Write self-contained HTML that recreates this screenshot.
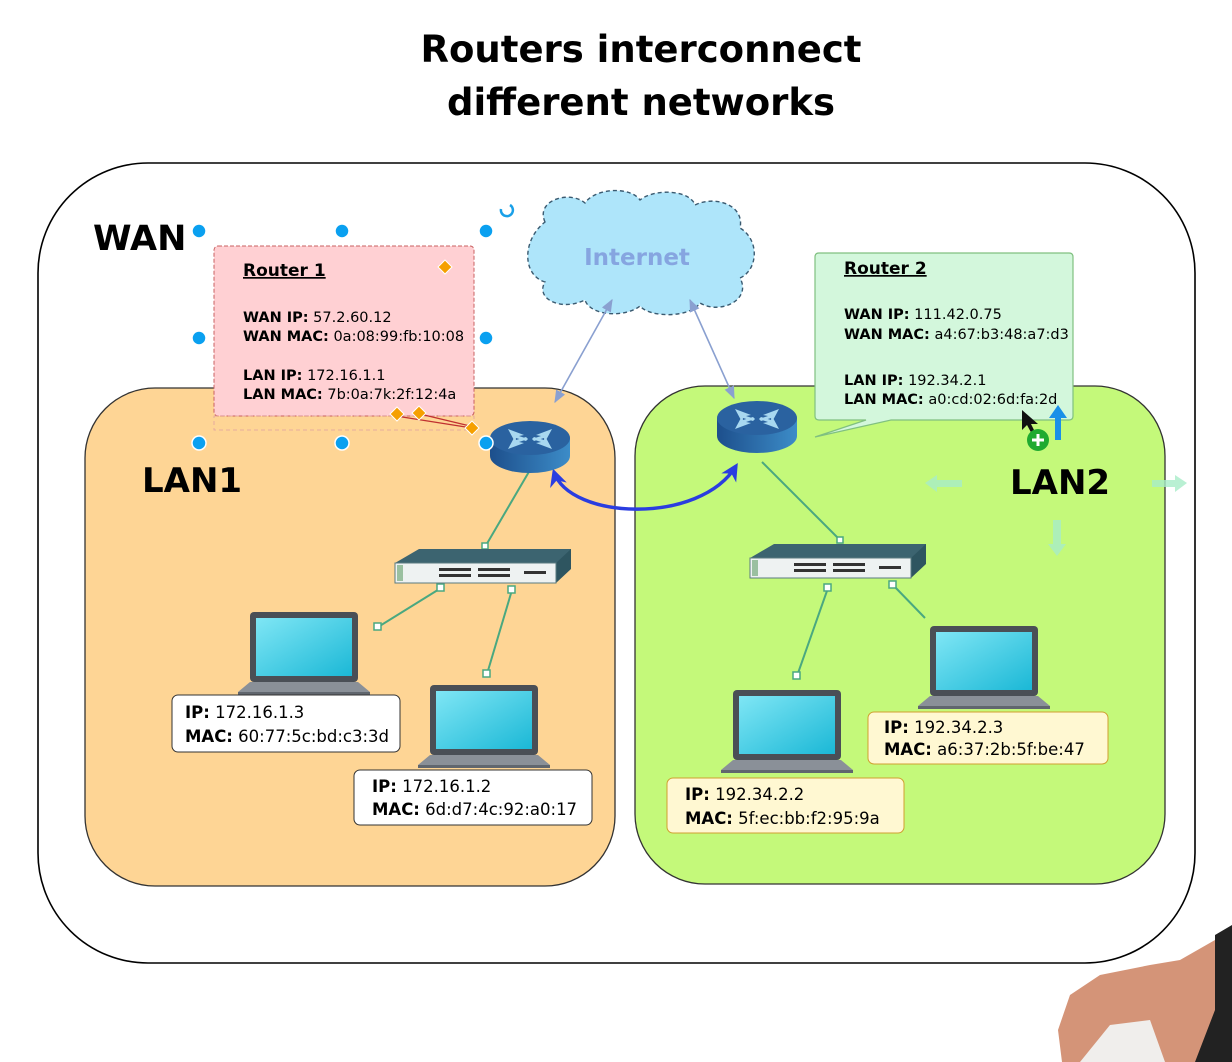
<!DOCTYPE html>
<html><head><meta charset="utf-8"><style>
html,body{margin:0;padding:0;background:#fff;}
svg{display:block;font-family:"DejaVu Sans","Liberation Sans",sans-serif;}
.b{font-weight:bold;}
</style></head><body>
<svg width="1232" height="1062" viewBox="0 0 1232 1062" xmlns="http://www.w3.org/2000/svg">
<defs>
<linearGradient id="scr" x1="0" y1="0" x2="1" y2="1"><stop offset="0" stop-color="#7fe6f5"/><stop offset="1" stop-color="#1bb8d6"/></linearGradient>
<linearGradient id="rt" x1="0" y1="0" x2="1" y2="0"><stop offset="0" stop-color="#1d4f8c"/><stop offset="1" stop-color="#3c8cc8"/></linearGradient>
<marker id="ah" viewBox="0 0 10 10" refX="9" refY="5" markerWidth="8" markerHeight="8" orient="auto-start-reverse"><path d="M0,1 L10,5 L0,9 z" fill="#8aa0d0"/></marker>
<marker id="bh" viewBox="0 0 10 10" refX="8" refY="5" markerWidth="5" markerHeight="5" orient="auto-start-reverse"><path d="M0,0 L10,5 L0,10 L3,5 z" fill="#2a3de0"/></marker>
<g id="sw">
<path d="M0,14 L24,0 L176,0 L176,14 L161,34 L0,34 z" fill="#3c6470"/>
<path d="M161,14 L176,0 L176,20 L161,34 z" fill="#2e5560"/>
<rect x="0" y="14" width="161" height="20" fill="#eef2f2" stroke="#5a7a80"/>
<rect x="2" y="16" width="6" height="16" fill="#9ac0a0"/>
<g fill="#333"><rect x="44" y="19" width="32" height="3"/><rect x="44" y="25" width="32" height="3"/><rect x="83" y="19" width="32" height="3"/><rect x="83" y="25" width="32" height="3"/><rect x="129" y="22" width="22" height="3"/></g>
</g>
<g id="lp">
<rect x="12" y="0" width="108" height="70" rx="4" fill="#4a4f56"/>
<rect x="18" y="6" width="96" height="58" fill="url(#scr)"/>
<path d="M0,80 L12,70 L120,70 L132,80 z" fill="#8a9098"/>
<rect x="0" y="80" width="132" height="3" fill="#60666e"/>
</g>
<g id="rtr">
<path d="M0,18 L0,36 A40,17 0 0 0 80,36 L80,18 z" fill="url(#rt)"/>
<ellipse cx="40" cy="18" rx="40" ry="17" fill="#2a62a0"/>
<g fill="#a8d8f0"><path d="M18,9 L34,15 L29,16 L38,19 L36,21 L26,18 L25,22 z"/><path d="M62,9 L46,15 L51,16 L42,19 L44,21 L54,18 L55,22 z"/><path d="M18,29 L34,23 L29,22 L38,19 L36,17 L26,20 L25,16 z"/><path d="M62,29 L46,23 L51,22 L42,19 L44,17 L54,20 L55,16 z"/></g>
</g>
</defs>

<text x="641" y="62" text-anchor="middle" class="b" font-size="37">Routers interconnect</text>
<text x="641" y="115" text-anchor="middle" class="b" font-size="37">different networks</text>

<rect x="38" y="163" width="1157" height="800" rx="110" fill="#fff" stroke="#000" stroke-width="1.6"/>
<text x="93" y="250" class="b" font-size="35">WAN</text>

<rect x="85" y="388" width="530" height="498" rx="70" fill="#fed595" stroke="#333" stroke-width="1.3"/>
<rect x="635" y="386" width="530" height="498" rx="70" fill="#c4f97a" stroke="#333" stroke-width="1.3"/>
<text x="142" y="492" class="b" font-size="34">LAN1</text>
<text x="1010" y="494" class="b" font-size="34">LAN2</text>

<path d="M545,222 C535,200 570,190 585,203 C595,188 630,186 640,200 C655,188 690,190 695,205 C715,195 745,205 740,228 C760,240 758,270 740,278 C752,300 720,315 700,303 C690,318 650,318 640,306 C625,318 590,316 585,300 C560,312 535,298 545,282 C522,275 522,240 545,222 z" fill="#aee5fa" stroke="#3a5a70" stroke-width="1.4" stroke-dasharray="4,3"/>
<text x="637" y="265" text-anchor="middle" class="b" font-size="23" fill="#86a5e0">Internet</text>

<line x1="612" y1="300" x2="555" y2="402" stroke="#8aa0d0" stroke-width="1.6" marker-start="url(#ah)" marker-end="url(#ah)"/>
<line x1="690" y1="300" x2="734" y2="398" stroke="#8aa0d0" stroke-width="1.6" marker-start="url(#ah)" marker-end="url(#ah)"/>
<path d="M554,472 C570,520 700,525 736,466" fill="none" stroke="#2a3de0" stroke-width="3.5" marker-start="url(#bh)" marker-end="url(#bh)"/>

<g stroke="#4aa880" stroke-width="2" fill="none">
<line x1="530" y1="470" x2="485" y2="547"/>
<line x1="441" y1="588" x2="378" y2="627"/>
<line x1="512" y1="590" x2="487" y2="674"/>
<line x1="762" y1="462" x2="840" y2="540"/>
<line x1="828" y1="588" x2="797" y2="676"/>
<line x1="893" y1="585" x2="925" y2="618"/>
</g>
<g fill="#fff" stroke="#4aa880" stroke-width="1.5">
<rect x="374" y="623" width="7" height="7"/><rect x="437" y="584" width="7" height="7"/><rect x="508" y="586" width="7" height="7"/><rect x="483" y="670" width="7" height="7"/><rect x="482" y="543" width="6" height="6"/>
<rect x="793" y="672" width="7" height="7"/><rect x="824" y="584" width="7" height="7"/><rect x="889" y="581" width="7" height="7"/><rect x="837" y="537" width="6" height="6"/>
</g>

<use href="#sw" x="395" y="549"/>
<use href="#sw" x="750" y="544"/>
<use href="#rtr" x="490" y="420"/>
<use href="#rtr" x="717" y="400"/>

<use href="#lp" x="238" y="612"/>
<use href="#lp" x="418" y="685"/>
<use href="#lp" x="721" y="690"/>
<use href="#lp" x="918" y="626"/>

<g font-size="16.5">
<rect x="172" y="695" width="228" height="57" rx="6" fill="#fff" stroke="#333"/>
<text x="185" y="718"><tspan class="b">IP:</tspan> 172.16.1.3</text>
<text x="185" y="742"><tspan class="b">MAC:</tspan> 60:77:5c:bd:c3:3d</text>
<rect x="354" y="770" width="238" height="55" rx="6" fill="#fff" stroke="#333"/>
<text x="372" y="792"><tspan class="b">IP:</tspan> 172.16.1.2</text>
<text x="372" y="815"><tspan class="b">MAC:</tspan> 6d:d7:4c:92:a0:17</text>
<rect x="667" y="778" width="237" height="55" rx="6" fill="#fff8d2" stroke="#d0a030"/>
<text x="685" y="800"><tspan class="b">IP:</tspan> 192.34.2.2</text>
<text x="685" y="824"><tspan class="b">MAC:</tspan> 5f:ec:bb:f2:95:9a</text>
<rect x="868" y="712" width="240" height="52" rx="6" fill="#fff8d2" stroke="#d0a030"/>
<text x="884" y="733"><tspan class="b">IP:</tspan> 192.34.2.3</text>
<text x="884" y="755"><tspan class="b">MAC:</tspan> a6:37:2b:5f:be:47</text>
</g>

<rect x="214" y="246" width="260" height="170" rx="4" fill="#ffd0d3" stroke="#c86060" stroke-dasharray="4,2"/>
<rect x="214" y="416" width="260" height="14" fill="none" stroke="#e0a0a0" stroke-dasharray="4,3" stroke-width="0.8"/>
<g font-size="14.5">
<text x="243" y="276" class="b" font-size="17" text-decoration="underline">Router 1</text>
<text x="243" y="322"><tspan class="b">WAN IP:</tspan>  57.2.60.12</text>
<text x="243" y="341"><tspan class="b">WAN MAC:</tspan> 0a:08:99:fb:10:08</text>
<text x="243" y="380"><tspan class="b">LAN IP:</tspan> 172.16.1.1</text>
<text x="243" y="399"><tspan class="b">LAN MAC:</tspan> 7b:0a:7k:2f:12:4a</text>
</g>
<path d="M396,416 L472,428 M420,414 L470,426" stroke="#c03030" stroke-width="1.3"/>
<g fill="#f5a000" stroke="#fff"><path d="M445,260 l7,7 l-7,7 l-7,-7z"/><path d="M397,407 l7,7 l-7,7 l-7,-7z"/><path d="M419,406 l7,7 l-7,7 l-7,-7z"/><path d="M472,421 l7,7 l-7,7 l-7,-7z"/></g>
<g fill="#0aa0f0" stroke="#fff" stroke-width="1.5">
<circle cx="199" cy="231" r="7"/><circle cx="342" cy="231" r="7"/><circle cx="486" cy="231" r="7"/>
<circle cx="199" cy="338" r="7"/><circle cx="486" cy="338" r="7"/>
<circle cx="199" cy="443" r="7"/><circle cx="342" cy="443" r="7"/><circle cx="486" cy="443" r="7"/>
</g>
<path d="M510,205 A6,6 0 1 1 501,209" fill="none" stroke="#1aa0e8" stroke-width="2.5"/>

<path d="M819,253 L1069,253 Q1073,253 1073,257 L1073,416 Q1073,420 1069,420 L891,420 L815,437 L866,420 L819,420 Q815,420 815,416 L815,257 Q815,253 819,253 z" fill="#d3f7dc" stroke="#80c080" stroke-width="1.2"/>
<g font-size="14.5">
<text x="844" y="274" class="b" font-size="17" text-decoration="underline">Router 2</text>
<text x="844" y="319"><tspan class="b">WAN IP:</tspan> 111.42.0.75</text>
<text x="844" y="339"><tspan class="b">WAN MAC:</tspan> a4:67:b3:48:a7:d3</text>
<text x="844" y="385"><tspan class="b">LAN IP:</tspan> 192.34.2.1</text>
<text x="844" y="404"><tspan class="b">LAN MAC:</tspan> a0:cd:02:6d:fa:2d</text>
</g>
<path d="M1022,410 L1022,430 L1027,425 L1033,436 L1036,434 L1031,424 L1038,424 z" fill="#111"/>
<path d="M1058,405 L1067,418 L1061,418 L1061,440 L1055,440 L1055,418 L1049,418 z" fill="#1a90e8"/>
<circle cx="1038" cy="440" r="11" fill="#1faa30"/>
<path d="M1038,434 v12 M1032,440 h12" stroke="#fff" stroke-width="3"/>
<g fill="#a8ecc8" opacity="0.8">
<path d="M925,483 L937,475 L937,480 L962,480 L962,487 L937,487 L937,492 z"/>
<path d="M1187,483 L1175,475 L1175,480 L1152,480 L1152,487 L1175,487 L1175,492 z"/>
<path d="M1057,556 L1048,544 L1053,544 L1053,520 L1061,520 L1061,544 L1066,544 z"/>
</g>

<path d="M1232,935 L1215,940 L1180,960 L1150,965 L1100,975 L1070,995 L1058,1030 L1062,1062 L1232,1062 z" fill="#d49478"/>
<path d="M1080,1062 L1110,1025 L1150,1020 L1165,1062 z" fill="#f0eeec"/>
<path d="M1215,935 L1232,925 L1232,1062 L1195,1062 L1215,1010 z" fill="#222"/>
</svg>
</body></html>
